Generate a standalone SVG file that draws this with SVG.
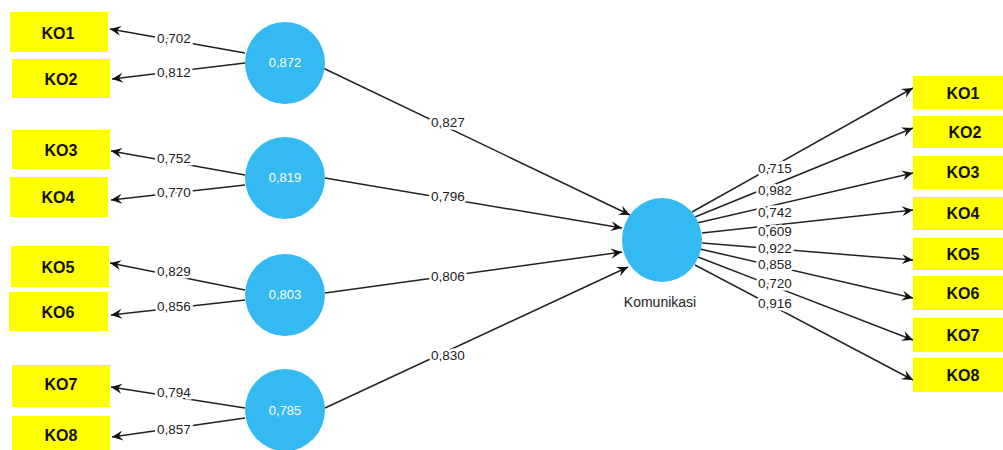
<svg xmlns="http://www.w3.org/2000/svg" width="1003" height="450" viewBox="0 0 1003 450">
<style>
.box{fill:#ffff00}
.bt{font-family:"Liberation Sans",Arial,sans-serif;font-weight:bold;font-size:16px;fill:#111;text-anchor:middle;dominant-baseline:central}
.lv{fill:#35b9f3}
.ct{font-family:"Liberation Sans",Arial,sans-serif;font-size:13px;fill:#fff;text-anchor:middle;dominant-baseline:central}
.ln{stroke:#222;stroke-width:1.5;fill:none;marker-end:url(#ah)}
.lb{font-family:"Liberation Sans",Arial,sans-serif;font-size:13.5px;fill:#222;text-anchor:middle;dominant-baseline:central;stroke:#fff;stroke-width:5;paint-order:stroke}
</style>
<defs>
<marker id="ah" viewBox="-12 -6 13 12" refX="0" refY="0" markerWidth="13" markerHeight="12" markerUnits="userSpaceOnUse" orient="auto">
<path d="M0,0 L-11,-5 L-7,0 L-11,5 Z" fill="#111"/>
</marker>
</defs>
<rect width="1003" height="450" fill="#fff"/>
<g id="connectors">
<line class="ln" x1="245" y1="53" x2="110" y2="29"/>
<line class="ln" x1="245" y1="63" x2="112" y2="79"/>
<line class="ln" x1="245" y1="175" x2="111" y2="151"/>
<line class="ln" x1="245" y1="185" x2="111" y2="200"/>
<line class="ln" x1="245" y1="290" x2="110" y2="263"/>
<line class="ln" x1="245" y1="300" x2="111" y2="315"/>
<line class="ln" x1="245" y1="408" x2="111" y2="387"/>
<line class="ln" x1="245" y1="418" x2="112" y2="437"/>
<line class="ln" x1="323" y1="68" x2="630" y2="215"/>
<line class="ln" x1="325" y1="178" x2="622" y2="228"/>
<line class="ln" x1="325" y1="293" x2="622" y2="252"/>
<line class="ln" x1="325" y1="408" x2="628" y2="267"/>
<line class="ln" x1="692" y1="212" x2="913" y2="88"/>
<line class="ln" x1="695" y1="217" x2="913" y2="128"/>
<line class="ln" x1="697" y1="223" x2="913" y2="173"/>
<line class="ln" x1="702" y1="233" x2="913" y2="210"/>
<line class="ln" x1="702" y1="243" x2="913" y2="260"/>
<line class="ln" x1="700" y1="249" x2="913" y2="298"/>
<line class="ln" x1="698" y1="257" x2="913" y2="340"/>
<line class="ln" x1="695" y1="265" x2="913" y2="380"/>
<text class="lb" x="174" y="38">0,702</text>
<text class="lb" x="174" y="72">0,812</text>
<text class="lb" x="174" y="158">0,752</text>
<text class="lb" x="174" y="192">0,770</text>
<text class="lb" x="174" y="271">0,829</text>
<text class="lb" x="174" y="306">0,856</text>
<text class="lb" x="174" y="392">0,794</text>
<text class="lb" x="174" y="429">0,857</text>
<text class="lb" x="448" y="122">0,827</text>
<text class="lb" x="448" y="196">0,796</text>
<text class="lb" x="448" y="276">0,806</text>
<text class="lb" x="448" y="355">0,830</text>
<text class="lb" x="775" y="168">0,715</text>
<text class="lb" x="775" y="190">0,982</text>
<text class="lb" x="775" y="212">0,742</text>
<text class="lb" x="775" y="231">0,609</text>
<text class="lb" x="775" y="248">0,922</text>
<text class="lb" x="775" y="264">0,858</text>
<text class="lb" x="775" y="283">0,720</text>
<text class="lb" x="775" y="303">0,916</text>
</g>
<g id="lv1"><ellipse class="lv" cx="285" cy="63" rx="40" ry="41"/><text class="ct" x="285" y="62">0,872</text></g>
<g id="lv2"><ellipse class="lv" cx="285" cy="178" rx="40" ry="41"/><text class="ct" x="285" y="177">0,819</text></g>
<g id="lv3"><ellipse class="lv" cx="285" cy="295" rx="40" ry="41"/><text class="ct" x="285" y="294">0,803</text></g>
<g id="lv4"><ellipse class="lv" cx="285" cy="410" rx="40" ry="41"/><text class="ct" x="285" y="410">0,785</text></g>
<g id="komunikasi"><ellipse class="lv" cx="662" cy="240" rx="40" ry="42"/><text x="660" y="302" font-family="Liberation Sans, Arial, sans-serif" font-size="14" fill="#222" text-anchor="middle" dominant-baseline="central">Komunikasi</text></g>
<g id="L-KO1"><rect class="box" x="10" y="12" width="98" height="40"/><text class="bt" x="58" y="33">KO1</text></g>
<g id="L-KO2"><rect class="box" x="12" y="59" width="98" height="39"/><text class="bt" x="61" y="79">KO2</text></g>
<g id="L-KO3"><rect class="box" x="12" y="130" width="98" height="39"/><text class="bt" x="61" y="150">KO3</text></g>
<g id="L-KO4"><rect class="box" x="10" y="177" width="98" height="40"/><text class="bt" x="58" y="197">KO4</text></g>
<g id="L-KO5"><rect class="box" x="11" y="246" width="98" height="41"/><text class="bt" x="58" y="267">KO5</text></g>
<g id="L-KO6"><rect class="box" x="9" y="292" width="99" height="39"/><text class="bt" x="58" y="312">KO6</text></g>
<g id="L-KO7"><rect class="box" x="12" y="365" width="98" height="42"/><text class="bt" x="61" y="384">KO7</text></g>
<g id="L-KO8"><rect class="box" x="12" y="416" width="98" height="40"/><text class="bt" x="61" y="435">KO8</text></g>
<g id="R-KO1"><rect class="box" x="913" y="76" width="92" height="33"/><text class="bt" x="963" y="93">KO1</text></g>
<g id="R-KO2"><rect class="box" x="913" y="116" width="92" height="32"/><text class="bt" x="965" y="132">KO2</text></g>
<g id="R-KO3"><rect class="box" x="913" y="156" width="92" height="33"/><text class="bt" x="963" y="172">KO3</text></g>
<g id="R-KO4"><rect class="box" x="913" y="197" width="92" height="33"/><text class="bt" x="963" y="213">KO4</text></g>
<g id="R-KO5"><rect class="box" x="913" y="238" width="92" height="32"/><text class="bt" x="963" y="254">KO5</text></g>
<g id="R-KO6"><rect class="box" x="913" y="276" width="92" height="34"/><text class="bt" x="963" y="293">KO6</text></g>
<g id="R-KO7"><rect class="box" x="913" y="318" width="92" height="34"/><text class="bt" x="963" y="335">KO7</text></g>
<g id="R-KO8"><rect class="box" x="913" y="358" width="92" height="34"/><text class="bt" x="963" y="375">KO8</text></g>
</svg>
